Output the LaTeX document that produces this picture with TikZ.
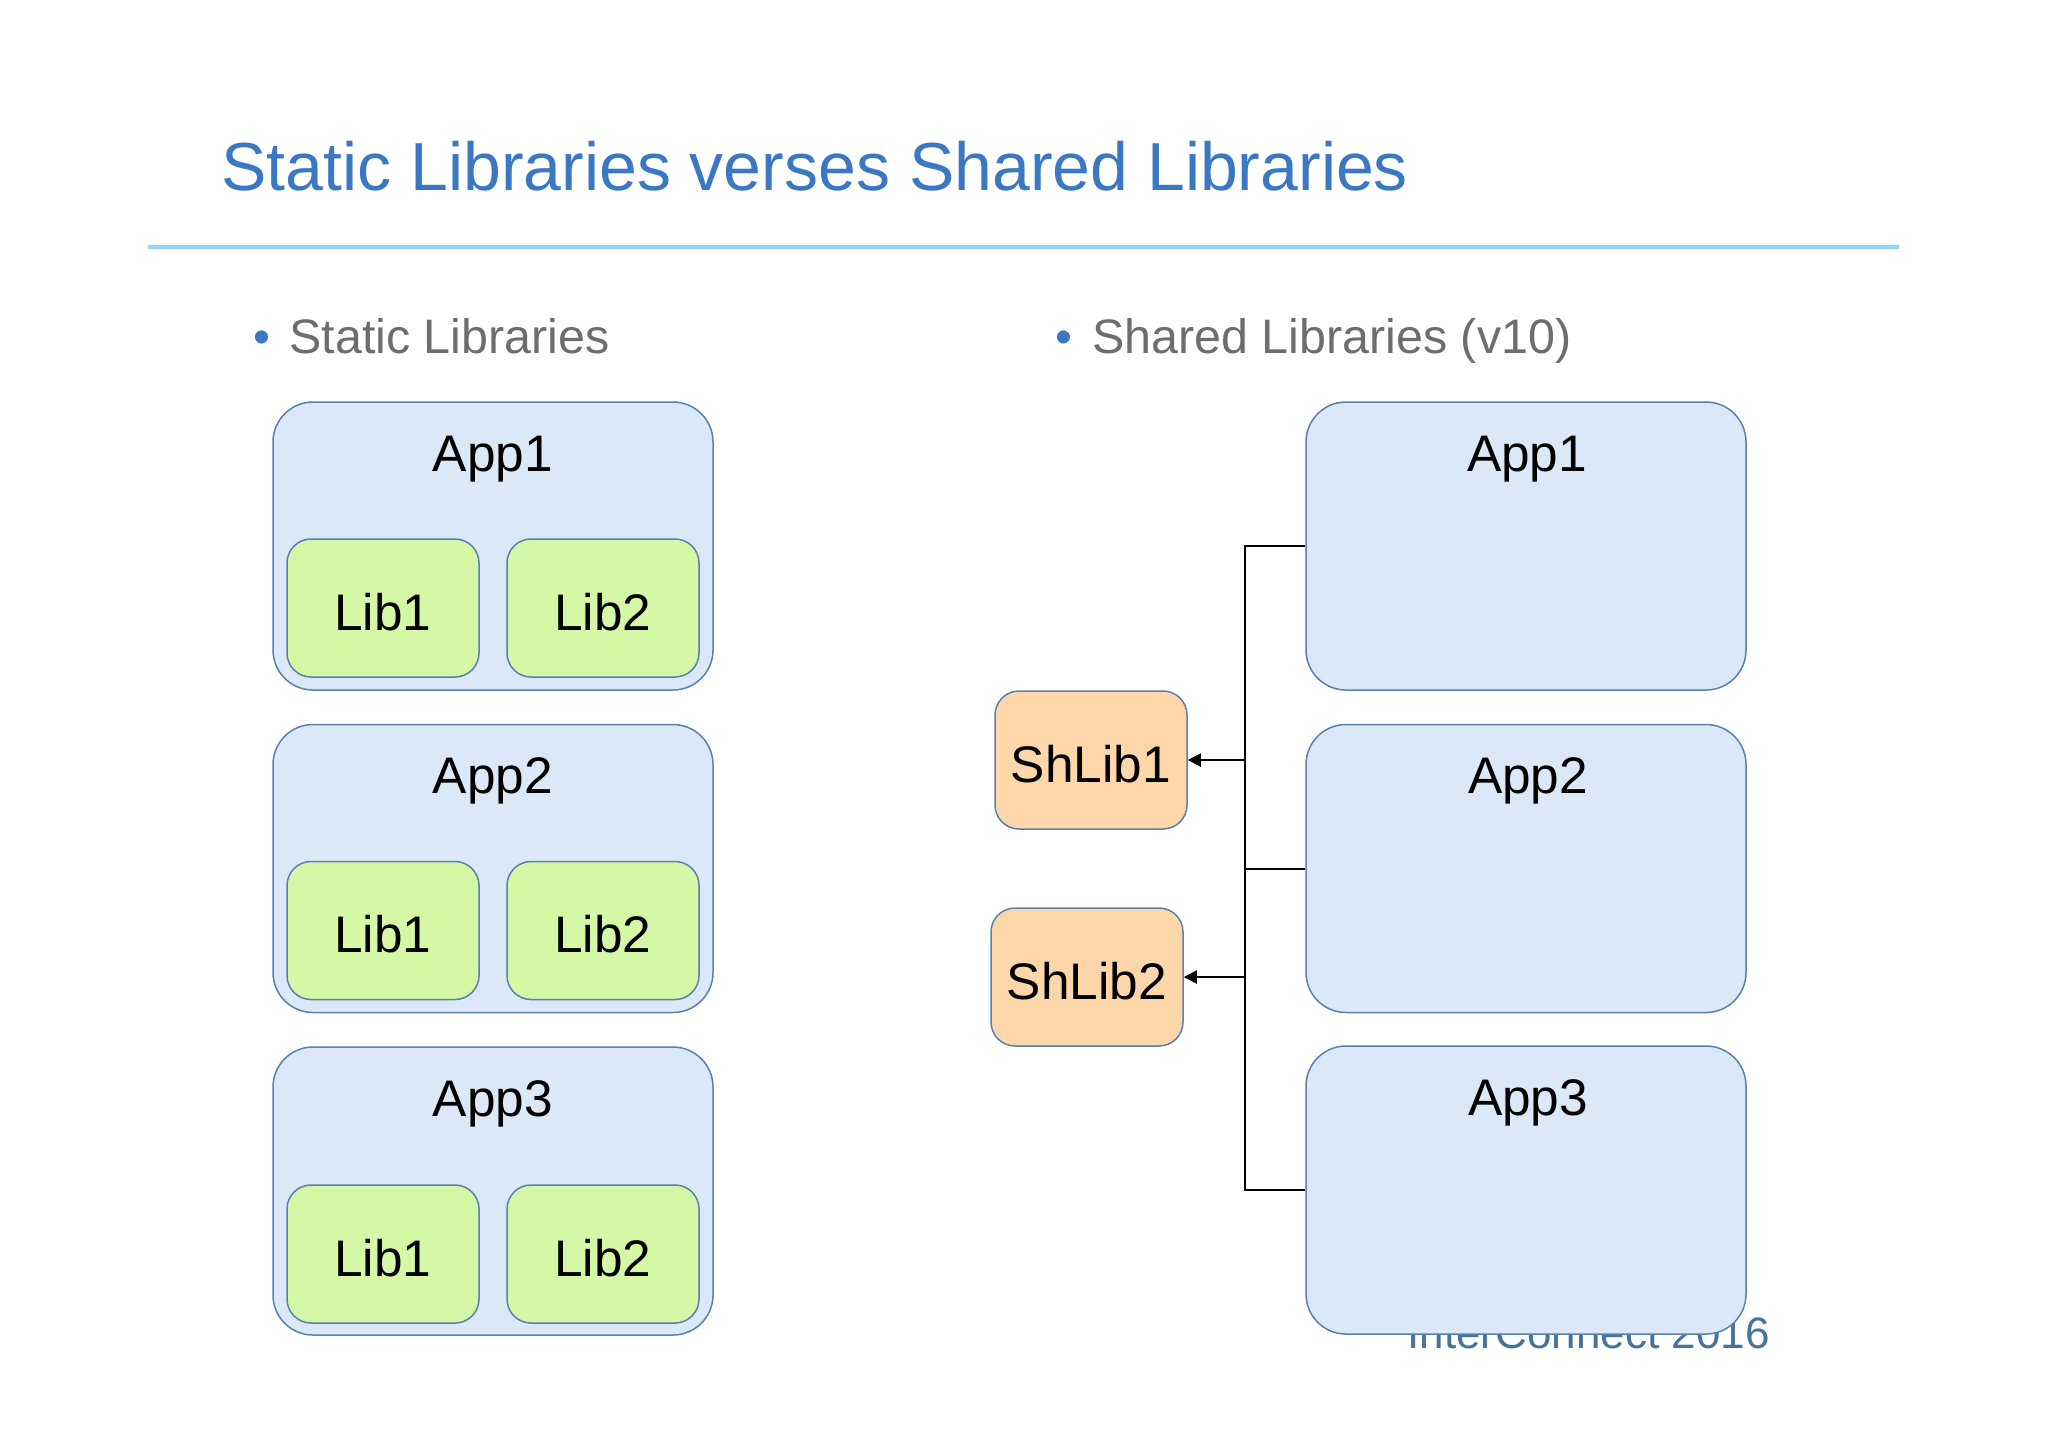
\documentclass[tikz,border=0pt]{standalone}
\usepackage{fontspec}
\setmainfont{Liberation Sans}
\usetikzlibrary{arrows.meta}
\definecolor{titleblue}{HTML}{3B78C4}
\definecolor{rulecol}{HTML}{8DD3FA}
\definecolor{bulletgray}{HTML}{6D6D6D}
\definecolor{appfill}{HTML}{DAE8F7}
\definecolor{boxdraw}{HTML}{5A80B0}
\definecolor{libfill}{HTML}{D5F8A6}
\definecolor{shfill}{HTML}{FDD6AA}
\definecolor{footcol}{HTML}{46739A}
\begin{document}
\begin{tikzpicture}[x=0.5pt,y=-0.5pt,
  appbox/.style={draw=boxdraw, fill=appfill, line width=0.75pt, rounded corners=20pt,
    minimum width=220pt, minimum height=144pt, inner sep=0pt},
  libbox/.style={draw=boxdraw, fill=libfill, line width=0.75pt, rounded corners=12pt,
    minimum width=96pt, minimum height=69pt, inner sep=0pt, font=\fontsize{25.7}{28}\selectfont,
    text height=22pt, text depth=0pt},
  shbox/.style={libbox, fill=shfill},
  apptext/.style={anchor=base, inner sep=0pt, font=\fontsize{25.7}{28}\selectfont},
  conn/.style={draw=black, line width=1pt},
  arr/.style={conn, -{Triangle[length=6.5pt,width=6.5pt]}},
  plain/.style={anchor=base west, inner sep=0pt}
]
\useasboundingbox (0,0) rectangle (2048,1447);
\fill[white] (0,0) rectangle (2048,1447);

% title and rule
\node[plain, text=titleblue, font=\fontsize{34}{40}\selectfont] (title) at (221,190) {Static Libraries verses Shared Libraries};
\draw[rulecol, line width=2pt] (148,247) coordinate (r1) -- (1899,247) coordinate (r2);

% bullets
\node[anchor=base, inner sep=0pt, text=titleblue, font=\fontsize{24.2}{28}\selectfont] (b1) at (262,353) {•};
\node[plain, text=bulletgray, font=\fontsize{24.2}{28}\selectfont] (h1) at (289,353) {Static Libraries};
\node[anchor=base, inner sep=0pt, text=titleblue, font=\fontsize{24.2}{28}\selectfont] (b2) at (1064,353) {•};
\node[plain, text=bulletgray, font=\fontsize{24.2}{28}\selectfont] (h2) at (1092,353) {Shared Libraries (v10)};

% footer (partly hidden by App3)
\node[anchor=base east, inner sep=0pt, text=footcol, font=\fontsize{22}{24}\selectfont] (foot) at (1770,1348) {InterConnect 2016};

% left column: static
\node[appbox] (la1) at (493,546) {};
\node[apptext] (la1t) at (493,471) {App1};
\node[libbox] (l11) at (383,608) {Lib1};
\node[libbox] (l12) at (603,608) {Lib2};

\node[appbox] (la2) at (493,868.5) {};
\node[apptext] (la2t) at (493,793.5) {App2};
\node[libbox] (l21) at (383,930.5) {Lib1};
\node[libbox] (l22) at (603,930.5) {Lib2};

\node[appbox] (la3) at (493,1191) {};
\node[apptext] (la3t) at (493,1116) {App3};
\node[libbox] (l31) at (383,1254) {Lib1};
\node[libbox] (l32) at (603,1254) {Lib2};

% right column: shared
\node[appbox] (ra1) at (1526,546) {};
\node[apptext] (ra1t) at (1527,471) {App1};
\node[appbox] (ra2) at (1526,868.5) {};
\node[apptext] (ra2t) at (1528,793.5) {App2};
\node[appbox] (ra3) at (1526,1190) {};
\node[apptext] (ra3t) at (1528,1115) {App3};

\node[shbox] (sh1) at (1091,760) {ShLib1};
\node[shbox] (sh2) at (1087,977) {ShLib2};

% connectors
\coordinate (t1) at (1245,546);
\coordinate (t3) at (1245,1190);
\draw[conn] (ra1.west) -- (t1) -- (t3) -- (ra3.west);
\draw[conn] (ra2.west) -- (ra2.west -| t1);
\draw[arr] (sh1.east -| t1) -- (sh1.east);
\draw[arr] (sh2.east -| t1) -- (sh2.east);
\end{tikzpicture}
\end{document}
